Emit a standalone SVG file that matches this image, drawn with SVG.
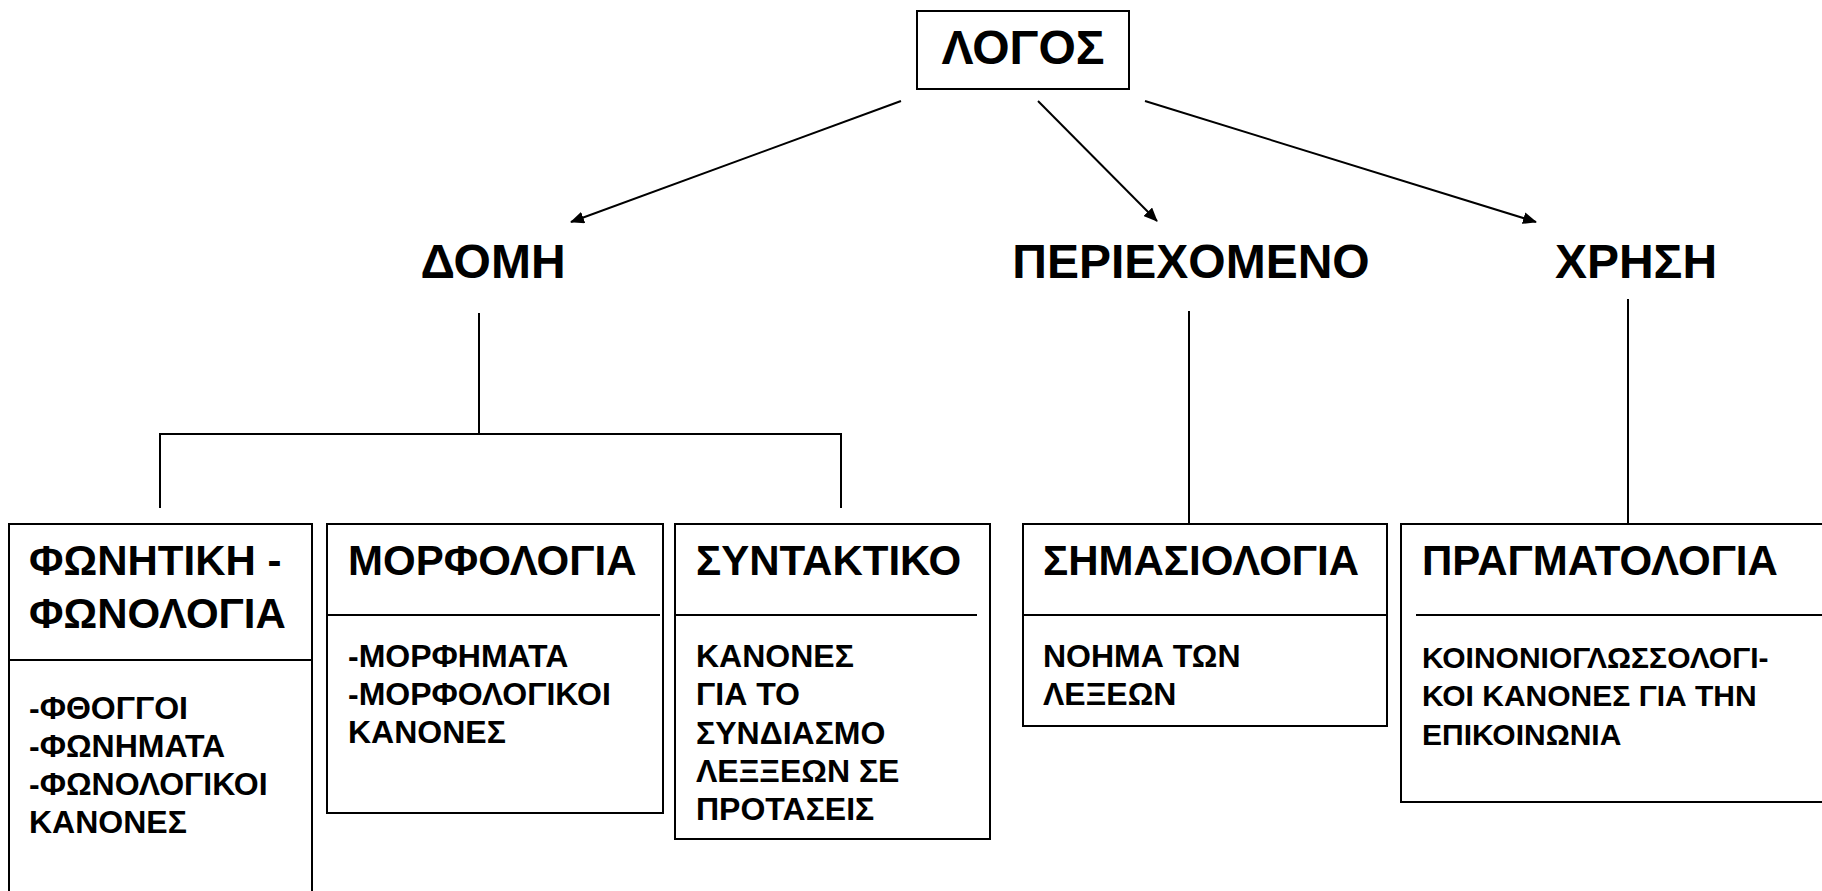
<svg xmlns="http://www.w3.org/2000/svg" width="1822" height="891" viewBox="0 0 1822 891">
<style>
text{font-family:"Liberation Sans",Arial,sans-serif;font-weight:bold;fill:#000}
.top{font-size:48px}
.head{font-size:42px}
.body{font-size:32px}
.body2{font-size:30px}
.box{fill:#fff;stroke:#000;stroke-width:2}
.ln{stroke:#000;stroke-width:2;fill:none}
</style>
<defs>
<marker id="ah" markerWidth="14" markerHeight="12" refX="13" refY="6" orient="auto" markerUnits="userSpaceOnUse">
<path d="M0,0 L14,6 L0,12 z" fill="#000"/>
</marker>
</defs>
<rect width="1822" height="891" fill="#fff"/>
<g id="connectors">
<line class="ln" x1="901" y1="101" x2="571" y2="222" marker-end="url(#ah)"/>
<line class="ln" x1="1038" y1="101" x2="1157" y2="221" marker-end="url(#ah)"/>
<line class="ln" x1="1145" y1="101" x2="1536" y2="222" marker-end="url(#ah)"/>
<path class="ln" d="M479,313 V434 M160,508 V434 H841 V508"/>
<line class="ln" x1="1189" y1="311" x2="1189" y2="524"/>
<line class="ln" x1="1628" y1="299" x2="1628" y2="524"/>
</g>
<g id="logos">
<rect class="box" x="917" y="11" width="212" height="78"/>
<text class="top" x="1023" y="64" text-anchor="middle">ΛΟΓΟΣ</text>
</g>
<g id="domi"><text class="top" x="493" y="278" text-anchor="middle">ΔΟΜΗ</text></g>
<g id="periexomeno"><text class="top" x="1191" y="278" text-anchor="middle">ΠΕΡΙΕΧΟΜΕΝΟ</text></g>
<g id="xrisi"><text class="top" x="1636" y="278" text-anchor="middle">ΧΡΗΣΗ</text></g>
<g id="fonitiki">
<rect class="box" x="9" y="524" width="303" height="368"/>
<line class="ln" x1="9" y1="660" x2="312" y2="660"/>
<text class="head" x="29" y="575">ΦΩΝΗΤΙΚΗ -</text>
<text class="head" x="29" y="628">ΦΩΝΟΛΟΓΙΑ</text>
<text class="body" x="29" y="719">-ΦΘΟΓΓΟΙ</text>
<text class="body" x="29" y="757">-ΦΩΝΗΜΑΤΑ</text>
<text class="body" x="29" y="795">-ΦΩΝΟΛΟΓΙΚΟΙ</text>
<text class="body" x="29" y="833">ΚΑΝΟΝΕΣ</text>
</g>
<g id="morfologia">
<rect class="box" x="327" y="524" width="336" height="289"/>
<line class="ln" x1="327" y1="615" x2="660" y2="615"/>
<text class="head" x="348" y="575">ΜΟΡΦΟΛΟΓΙΑ</text>
<text class="body" x="348" y="667">-ΜΟΡΦΗΜΑΤΑ</text>
<text class="body" x="348" y="705">-ΜΟΡΦΟΛΟΓΙΚΟΙ</text>
<text class="body" x="348" y="743">ΚΑΝΟΝΕΣ</text>
</g>
<g id="syntaktiko">
<rect class="box" x="675" y="524" width="315" height="315"/>
<line class="ln" x1="675" y1="615" x2="977" y2="615"/>
<text class="head" x="696" y="575">ΣΥΝΤΑΚΤΙΚΟ</text>
<text class="body" x="696" y="667">ΚΑΝΟΝΕΣ</text>
<text class="body" x="696" y="705">ΓΙΑ ΤΟ</text>
<text class="body" x="696" y="744">ΣΥΝΔΙΑΣΜΟ</text>
<text class="body" x="696" y="782">ΛΕΞΞΕΩΝ ΣΕ</text>
<text class="body" x="696" y="820">ΠΡΟΤΑΣΕΙΣ</text>
</g>
<g id="simasiologia">
<rect class="box" x="1023" y="524" width="364" height="202"/>
<line class="ln" x1="1023" y1="615" x2="1387" y2="615"/>
<text class="head" x="1043" y="575">ΣΗΜΑΣΙΟΛΟΓΙΑ</text>
<text class="body" x="1043" y="667">ΝΟΗΜΑ ΤΩΝ</text>
<text class="body" x="1043" y="705">ΛΕΞΕΩΝ</text>
</g>
<g id="pragmatologia">
<rect class="box" x="1401" y="524" width="430" height="278"/>
<line class="ln" x1="1416" y1="615" x2="1822" y2="615"/>
<text class="head" x="1422" y="575">ΠΡΑΓΜΑΤΟΛΟΓΙΑ</text>
<text class="body2" x="1422" y="668">ΚΟΙΝΟΝΙΟΓΛΩΣΣΟΛΟΓΙ-</text>
<text class="body2" x="1422" y="706">ΚΟΙ ΚΑΝΟΝΕΣ ΓΙΑ ΤΗΝ</text>
<text class="body2" x="1422" y="745">ΕΠΙΚΟΙΝΩΝΙΑ</text>
</g>
</svg>
